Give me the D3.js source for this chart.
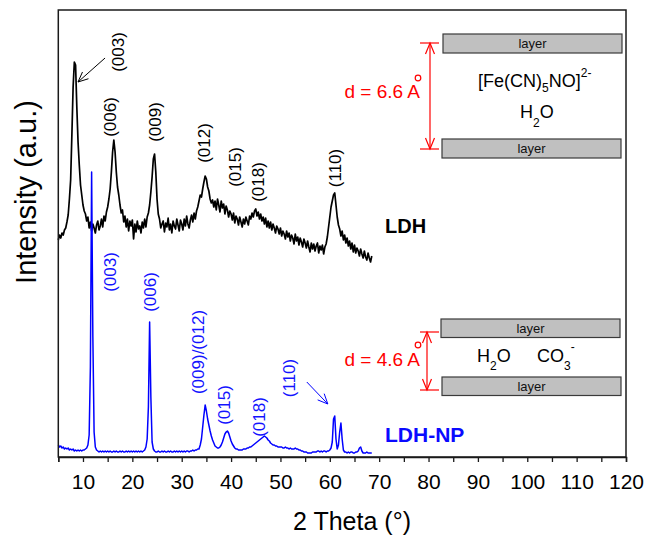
<!DOCTYPE html>
<html><head><meta charset="utf-8">
<script src="https://cdn.jsdelivr.net/npm/d3@7"></script>
<style>
body{margin:0;background:#fff}
svg{display:block}
text{font-family:"Liberation Sans",Arial,Helvetica,sans-serif}
</style>
</head><body>
<svg id="chart" width="646" height="536"></svg>
<script>
// ---- data (2θ grid: start + step, intensities in a.u.) ----
const twoThetaStart = 5;
const twoThetaStep = 0.25;

const ldhIntensity = [
 217,222,219,224,222,227,229,235,242,258,277,322,370,395,392,350,315,292,272,262,
 252,246,243,236,240,229,235,226,233,229,224,232,236,227,231,238,230,241,236,245,
 250,258,268,285,305,317,305,285,270,262,252,244,247,235,241,230,238,226,236,231,
 237,218,233,225,236,228,231,224,235,229,238,230,240,244,252,265,280,298,303,285,
 258,243,238,229,233,236,225,234,230,239,227,233,224,236,231,228,238,232,226,237,
 233,227,238,231,241,233,229,237,242,235,244,238,246,250,256,262,260,268,275,281,
 278,270,266,258,254,257,250,256,247,258,252,245,256,249,253,243,251,247,240,246,
 243,237,244,234,241,238,232,240,235,230,238,233,240,236,232,241,238,244,240,246,
 248,241,245,238,243,236,240,233,239,230,236,229,235,227,233,229,224,231,228,223,
 229,221,226,223,218,226,220,224,216,222,219,213,223,216,220,212,219,215,210,218,
 214,209,216,210,205,214,208,213,206,211,214,204,211,207,212,203,210,213,220,230,
 240,250,256,262,264,252,240,232,228,221,226,217,222,214,219,211,216,208,214,205,
 212,204,209,206,201,208,203,199,206,200,197,204,199,195,201
];

const ldhNpIntensity = [
 12,10,11,9,10,8,9,8,9,7,8,7,8,6,7,6,7,6,7,6,
 7,7,8,9,12,22,90,285,120,25,10,7,6,5,6,5,6,5,6,5,
 6,5,6,5,5,6,5,6,5,5,6,5,6,5,5,6,5,6,5,6,
 5,6,5,6,5,6,5,6,5,6,7,10,18,50,135,60,15,8,6,5,
 5,6,5,5,6,5,6,5,5,6,5,6,5,5,6,5,6,5,6,5,
 6,5,6,5,6,6,5,6,6,7,6,7,7,8,8,12,18,30,42,52,
 46,38,32,26,21,17,14,11,10,9,9,10,12,15,19,23,25,26,24,20,
 16,13,11,9,8,8,7,7,7,7,8,8,8,9,9,10,10,11,12,13,
 14,15,16,17,18,19,20,21,20,19,17,16,14,13,12,12,11,11,10,10,
 10,10,9,9,10,9,9,8,9,8,8,8,9,8,8,7,7,6,6,5,
 5,5,4,4,4,4,5,5,5,5,6,6,5,6,5,6,6,5,6,6,
 7,9,15,38,41,18,8,12,25,34,18,7,5,5,4,5,4,5,5,4,
 4,5,5,6,9,10,6,4,4,4,5,4,4,4,4
];

const xMajorTicks = [10,20,30,40,50,60,70,80,90,100,110,120];
const xMinorTicks = [5,15,25,35,45,55,65,75,85,95,105,115];

// peak labels: text, 2θ position, intensity position
const ldhLabelText  = ["(003)","(006)","(009)","(012)","(015)","(018)","(110)"];
const ldhLabelTheta = [17.1, 15.5, 24.6, 34.7, 40.8, 45.6, 61.2];
const ldhLabelInt   = [405, 340, 335, 314, 290, 275, 289];

const npLabelText  = ["(003)","(006)","(009)/(012)","(015)","(018)","(110)"];
const npLabelTheta = [15.5, 23.6, 33.3, 38.75, 45.8, 51.9];
const npLabelInt   = [185, 165, 105, 52, 40, 79];

// annotation arrows [fromTheta, fromInt, toTheta, toInt]
const ldhArrow = [14.47, 399, 8.99, 375];
const npArrow  = [55.34, 75, 59.6, 53];

// ---- chart ----
const svg = d3.select("#chart");
const L = 58.3, R = 626, T = 10, B = 457;
const x = d3.scaleLinear().domain([5,120]).range([L,R]);
const y = d3.scaleLinear().domain([0,447]).range([B,T]);
const FONT = '"Liberation Sans",Arial,sans-serif';

const line = d3.line()
  .x((d,i)=>x(twoThetaStart + i*twoThetaStep))
  .y(d=>y(d));

svg.append("path").datum(ldhIntensity)
  .attr("d", line).attr("fill","none").attr("stroke","#000")
  .attr("stroke-width",1.7).attr("stroke-linejoin","round");
svg.append("path").datum(ldhNpIntensity)
  .attr("d", line).attr("fill","none").attr("stroke","#0000ff")
  .attr("stroke-width",1.5).attr("stroke-linejoin","round");

// frame
svg.append("rect").attr("x",L).attr("y",T).attr("width",R-L).attr("height",B-T)
  .attr("fill","none").attr("stroke","#1a1a1a").attr("stroke-width",1.5);

// x axis
const axis = d3.axisBottom(x).tickValues(xMajorTicks).tickSize(5).tickPadding(12)
  .tickFormat(d3.format("d"));
const gx = svg.append("g").attr("transform",`translate(0,${B})`).call(axis);
gx.select(".domain").attr("stroke","#1a1a1a").attr("stroke-width",1.5);
gx.selectAll(".tick line").attr("stroke","#1a1a1a").attr("stroke-width",1.3);
gx.selectAll(".tick text").attr("font-size",21).attr("font-family",FONT).attr("fill","#000");
const axisMinor = d3.axisBottom(x).tickValues(xMinorTicks).tickSize(5).tickFormat("");
const gm = svg.append("g").attr("transform",`translate(0,${B})`).call(axisMinor);
gm.select(".domain").remove();
gm.selectAll(".tick line").attr("stroke","#1a1a1a").attr("stroke-width",1.3);

// axis titles
svg.append("text").attr("x",352).attr("y",530).attr("text-anchor","middle")
  .attr("font-size",25).text("2 Theta (°)");
svg.append("text").attr("transform","translate(36,192) rotate(-90)")
  .attr("text-anchor","middle").attr("font-size",29).text("Intensity (a.u.)");

// peak labels
function labels(texts, thetas, ints, color){
  texts.forEach((t,i)=>{
    svg.append("text")
      .attr("transform",`translate(${x(thetas[i])},${y(ints[i])}) rotate(-90)`)
      .attr("text-anchor","middle").attr("dominant-baseline","central")
      .attr("font-size",17).attr("fill",color).text(t);
  });
}
labels(ldhLabelText, ldhLabelTheta, ldhLabelInt, "#000");
labels(npLabelText, npLabelTheta, npLabelInt, "#1414ff");

// arrows
function arrow(x1,y1,x2,y2,color,w,len,half){
  svg.append("line").attr("x1",x1).attr("y1",y1).attr("x2",x2).attr("y2",y2)
    .attr("stroke",color).attr("stroke-width",w);
  const a = Math.atan2(y2-y1,x2-x1);
  const bx = x2 - len*Math.cos(a), by = y2 - len*Math.sin(a);
  const px = -Math.sin(a)*half, py = Math.cos(a)*half;
  svg.append("path").attr("d",`M${bx+px},${by+py}L${x2},${y2}L${bx-px},${by-py}`)
    .attr("fill","none").attr("stroke",color).attr("stroke-width",w);
}
arrow(x(ldhArrow[0]),y(ldhArrow[1]),x(ldhArrow[2]),y(ldhArrow[3]),"#000",1,10,4.5);
arrow(x(npArrow[0]),y(npArrow[1]),x(npArrow[2]),y(npArrow[3]),"#0000ff",1,10,4.5);

// sample names
svg.append("text").attr("x",385).attr("y",233).attr("font-size",20)
  .attr("font-weight","bold").attr("fill","#000").text("LDH");
svg.append("text").attr("x",385).attr("y",442).attr("font-size",21)
  .attr("font-weight","bold").attr("fill","#0a0aff").text("LDH-NP");

// layer diagrams
function layer(rx,ry,w,h){
  svg.append("rect").attr("x",rx).attr("y",ry).attr("width",w).attr("height",h)
    .attr("fill","#c0c0c0").attr("stroke","#3a3a3a").attr("stroke-width",1.2);
  svg.append("text").attr("x",rx+w/2).attr("y",ry+h/2+4.5).attr("text-anchor","middle")
    .attr("font-size",13).attr("fill","#111").text("layer");
}
function spacing(xv,y1,y2,xt,label,ringX,ringY,ty){
  const red="#ff0000";
  svg.append("line").attr("x1",xt).attr("x2",xt+19).attr("y1",y1).attr("y2",y1).attr("stroke",red).attr("stroke-width",1.2);
  svg.append("line").attr("x1",xt).attr("x2",xt+19).attr("y1",y2).attr("y2",y2).attr("stroke",red).attr("stroke-width",1.2);
  svg.append("line").attr("x1",xv).attr("x2",xv).attr("y1",y1).attr("y2",y2).attr("stroke",red).attr("stroke-width",1.2);
  svg.append("path").attr("d",`M${xv-4.5},${y1+11}L${xv},${y1}L${xv+4.5},${y1+11}`).attr("fill","none").attr("stroke",red).attr("stroke-width",1.2);
  svg.append("path").attr("d",`M${xv-4.5},${y2-11}L${xv},${y2}L${xv+4.5},${y2-11}`).attr("fill","none").attr("stroke",red).attr("stroke-width",1.2);
  svg.append("text").attr("x",xt).attr("y",ty).attr("text-anchor","end").attr("font-size",19).attr("fill",red).text(label);
  svg.append("circle").attr("cx",ringX).attr("cy",ringY).attr("r",2.8).attr("fill","none").attr("stroke",red).attr("stroke-width",1.2);
}

layer(443,34,179,19);
layer(442,139,179,19);
spacing(430,43,149,420,"d = 6.6 A",418,78,98);

const fe = svg.append("text").attr("x",478).attr("y",87).attr("font-size",18).attr("fill","#000");
fe.append("tspan").text("[Fe(CN)");
fe.append("tspan").attr("font-size",12).attr("dy",5).text("5");
fe.append("tspan").attr("dy",-5).text("NO]");
fe.append("tspan").attr("font-size",12).attr("dy",-10).text("2-");

const h1 = svg.append("text").attr("x",520).attr("y",118).attr("font-size",18).attr("fill","#000");
h1.append("tspan").text("H");
h1.append("tspan").attr("font-size",12).attr("dy",9).text("2");
h1.append("tspan").attr("dy",-9).text("O");

layer(441,319,179,18.5);
layer(442,377,179,18.5);
spacing(427,332,390,420,"d = 4.6 A",418,345,366);

const h2 = svg.append("text").attr("x",477).attr("y",362).attr("font-size",18).attr("fill","#000");
h2.append("tspan").text("H");
h2.append("tspan").attr("font-size",12).attr("dy",8).text("2");
h2.append("tspan").attr("dy",-8).text("O");

const co = svg.append("text").attr("x",537).attr("y",362).attr("font-size",18).attr("fill","#000");
co.append("tspan").text("CO");
co.append("tspan").attr("font-size",12).attr("dy",8).text("3");
co.append("tspan").attr("font-size",12).attr("dy",-19).text("-");
</script>
</body></html>
